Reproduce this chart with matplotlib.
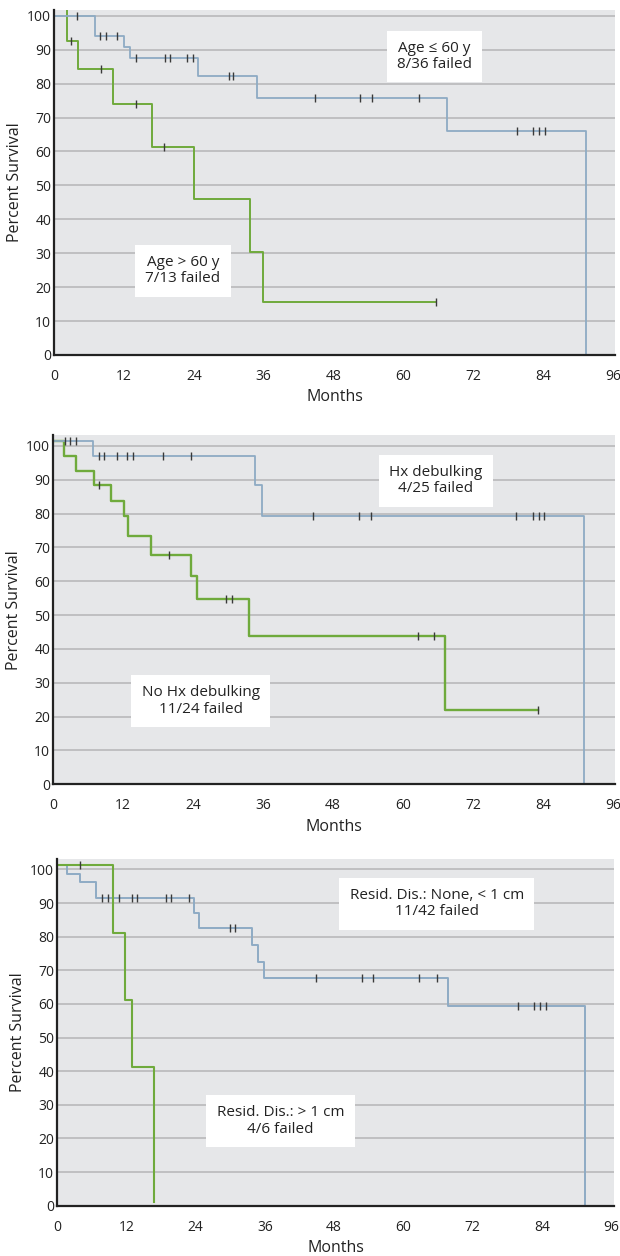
import matplotlib
matplotlib.use('Agg')
import matplotlib.pyplot as plt
import numpy as np

plt.rcParams['font.family'] = ['Open Sans', 'DejaVu Sans']

BLUE = '#8eabc4'
GREEN = '#6faa3c'
BG = '#e6e7e9'
GRID = '#b9b9bb'

# ---- panel 1: age ----
age_young_t = [0, 7.1, 12.1, 13.0, 24.8, 34.8, 67.5, 91.3]
age_young_s = [100, 94.1, 90.8, 87.5, 82.3, 75.8, 66.0, 0]
age_young_cens = [4.0, 7.9, 8.9, 10.8, 14.1, 19.1, 19.9, 22.8, 23.8, 30.0, 30.8,
                  44.8, 52.6, 54.6, 62.6, 79.5, 82.3, 83.3, 84.3]
age_old_t = [0, 2.2, 4.1, 10.1, 16.9, 24.0, 33.6, 35.8, 65.6]
age_old_s = [103, 92.6, 84.3, 74.1, 61.4, 46.1, 30.4, 15.5, 15.5]
age_old_cens = [3.0, 8.0, 14.1, 18.9, 65.6]

# ---- panel 2: debulking ----
hx_t = [0, 6.8, 34.6, 35.8, 91.0]
hx_s = [101.3, 97.0, 88.3, 79.2, 0]
hx_cens = [2.0, 2.9, 3.9, 7.9, 8.7, 11.0, 12.7, 13.7, 18.8, 23.7,
           44.6, 52.5, 54.5, 79.3, 82.2, 83.2, 84.1]
nohx_t = [0, 1.9, 4.0, 7.1, 10.0, 12.1, 12.8, 16.8, 23.7, 24.7, 33.6, 67.1, 83.1]
nohx_s = [101.3, 97.0, 92.7, 88.3, 83.8, 79.2, 73.5, 67.6, 61.4, 54.8, 43.8, 22.0, 22.0]
nohx_cens = [7.9, 19.8, 29.7, 30.7, 62.5, 65.3, 83.1]

# ---- panel 3: residual disease ----
small_t = [0, 1.8, 4.0, 6.8, 23.7, 24.6, 33.8, 34.9, 35.9, 67.7, 91.5]
small_s = [101.3, 98.7, 96.3, 91.4, 86.9, 82.7, 77.5, 72.5, 67.6, 59.4, 0]
small_cens = [7.8, 8.8, 10.7, 13.0, 13.9, 18.8, 19.8, 22.8, 30.0, 30.8,
              44.8, 52.8, 54.7, 62.8, 65.8, 79.8, 82.6, 83.6, 84.7]
large_t = [0, 9.7, 11.7, 13.0, 16.8]
large_s = [101.3, 81.1, 61.2, 41.1, 1.2]
large_cens = [4.0]

xticks = [0, 12, 24, 36, 48, 60, 72, 84, 96]
yticks = list(range(0, 101, 10))


def km(ax, t, s, cens, color, lw, z):
    ax.step(t, s, where='post', color=color, lw=lw, zorder=z, clip_on=True)
    t = np.array(t)
    s = np.array(s)
    idx = np.searchsorted(t, cens, side='right') - 1
    ax.plot(cens, s[idx], ls='none', marker='|', ms=6, mew=1.0,
            color='#3a3a3a', zorder=z + 1)


def style(ax, xmax, ymax):
    ax.set_facecolor(BG)
    ax.set_xlim(0, xmax)
    ax.set_ylim(0, ymax)
    ax.set_xticks(xticks)
    ax.set_yticks(yticks)
    for y in yticks[1:]:
        ax.axhline(y, color=GRID, lw=1.2, zorder=1)
    for sp in ['top', 'right']:
        ax.spines[sp].set_visible(False)
    for sp in ['left', 'bottom']:
        ax.spines[sp].set_linewidth(1.6)
        ax.spines[sp].set_color('#222222')
        ax.spines[sp].set_zorder(6)
    ax.tick_params(axis='x', length=0, pad=10, labelsize=10, colors='#222222')
    ax.tick_params(axis='y', length=0, pad=2, labelsize=10, colors='#222222')
    ax.set_ylabel('Percent Survival', fontsize=11.5, color='#222222', labelpad=3)
    ax.set_xlabel('Months', fontsize=11.5, color='#222222', labelpad=4)


def label(ax, x, y, txt):
    ax.text(x, y, txt, ha='center', va='center', fontsize=11, color='#222222',
            linespacing=1.1, zorder=8,
            bbox=dict(facecolor='white', edgecolor='none', pad=7.5))


fig = plt.figure(figsize=(6.2, 12.56), dpi=100)

ax1 = fig.add_axes([54 / 620, 1 - 355 / 1256, 561 / 620, 345 / 1256])
style(ax1, 96.3, 101.7)
km(ax1, age_old_t, age_old_s, age_old_cens, GREEN, 1.4, 3)
km(ax1, age_young_t, age_young_s, age_young_cens, BLUE, 1.3, 4)
label(ax1, 65.3, 88.0, 'Age \u2264 60 y\n8/36 failed')
label(ax1, 22.1, 24.8, 'Age > 60 y\n7/13 failed')

ax2 = fig.add_axes([53 / 620, 1 - 784.3 / 1256, 562 / 620, 349.3 / 1256])
style(ax2, 96.3, 103.2)
km(ax2, nohx_t, nohx_s, nohx_cens, GREEN, 1.7, 3)
km(ax2, hx_t, hx_s, hx_cens, BLUE, 1.3, 4)
label(ax2, 65.6, 89.7, 'Hx debulking\n4/25 failed')
label(ax2, 25.3, 24.6, 'No Hx debulking\n11/24 failed')

ax3 = fig.add_axes([57 / 620, 1 - 1205.7 / 1256, 557 / 620, 346.7 / 1256])
style(ax3, 96.5, 103.1)
km(ax3, small_t, small_s, small_cens, BLUE, 1.4, 3)
km(ax3, large_t, large_s, large_cens, GREEN, 1.5, 4)
label(ax3, 65.8, 89.8, 'Resid. Dis.: None, < 1 cm\n11/42 failed')
label(ax3, 38.7, 25.2, 'Resid. Dis.: > 1 cm\n4/6 failed')

fig.savefig('out.png', dpi=100)
